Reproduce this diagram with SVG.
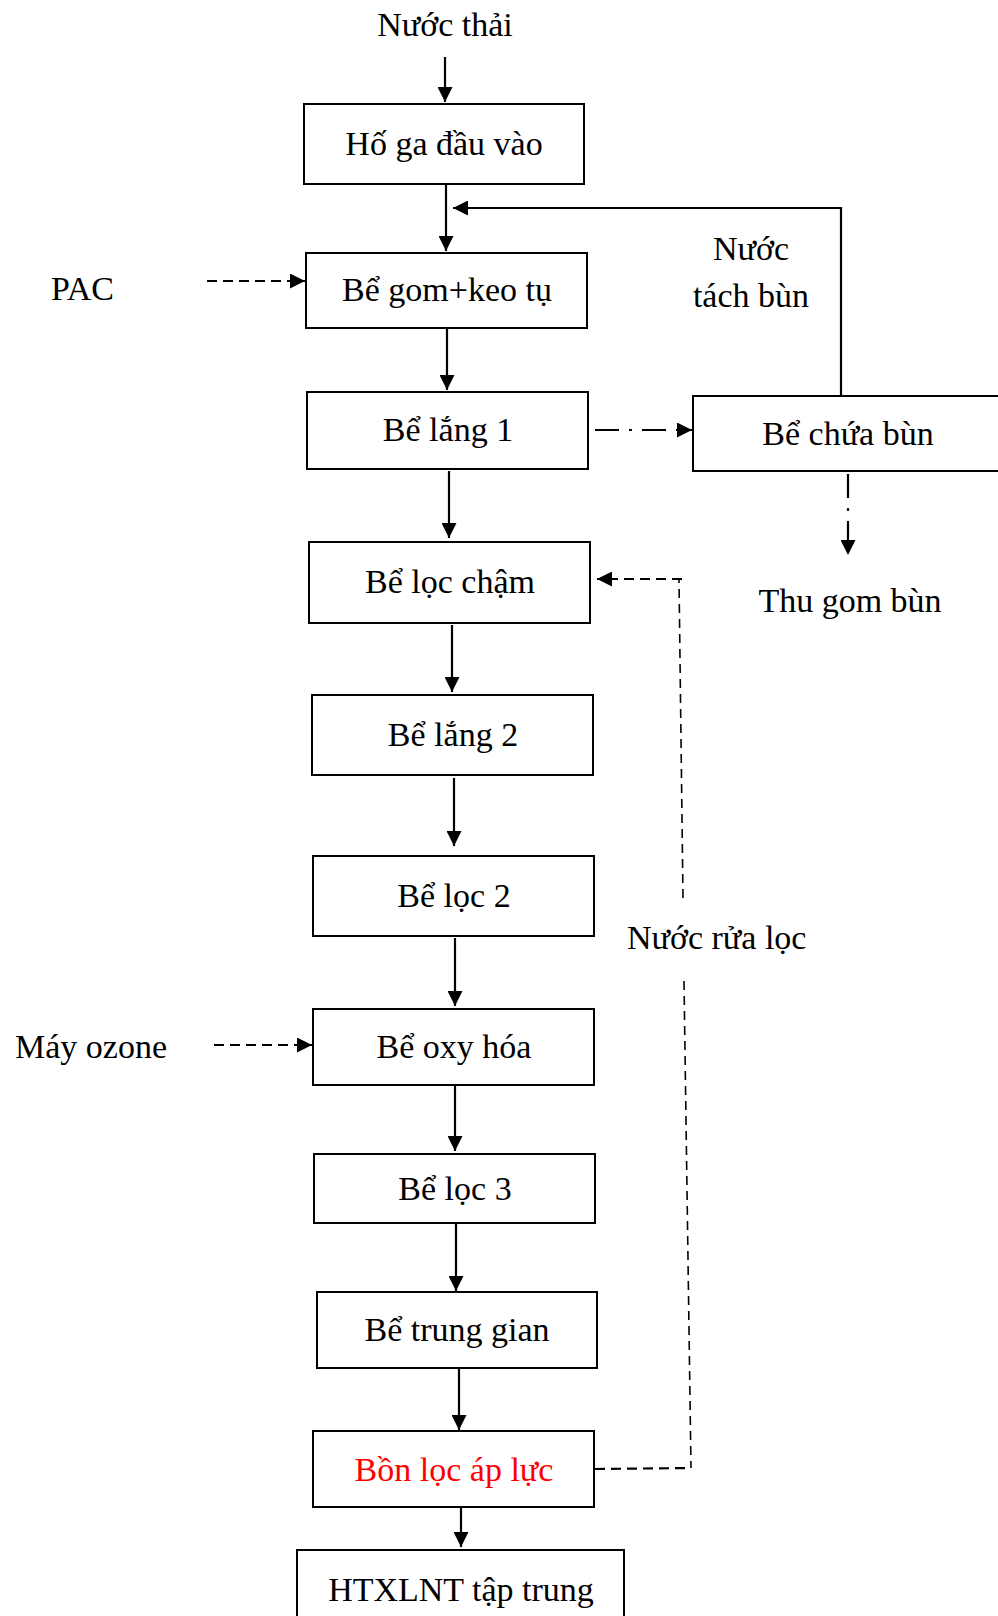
<svg xmlns="http://www.w3.org/2000/svg" width="998" height="1616" viewBox="0 0 998 1616">
<style>
.box{fill:#fff;stroke:#000;stroke-width:2}
.t{font-family:"Liberation Serif","Times New Roman",serif;font-size:34px;fill:#000}
.c{text-anchor:middle}
.red{fill:#ff0000}
.ln{fill:none;stroke:#000;stroke-width:2.2}
.dash{fill:none;stroke:#000;stroke-width:2.2;stroke-dasharray:10 6}
.dashthin{fill:none;stroke:#000;stroke-width:1.6;stroke-dasharray:9 6}
.dashdot{fill:none;stroke:#000;stroke-width:2.2;stroke-dasharray:24 10 3 10}
</style>
<defs>
<marker id="ah" markerUnits="userSpaceOnUse" markerWidth="16" markerHeight="15" refX="15" refY="7.5" orient="auto">
<path d="M0,0 L15,7.5 L0,15 z" fill="#000"/>
</marker>
</defs>
<g id="connectors">
<line class="ln" x1="445" y1="57" x2="445" y2="102" marker-end="url(#ah)"/>
<line class="ln" x1="446" y1="185" x2="446" y2="251" marker-end="url(#ah)"/>
<line class="ln" x1="447" y1="326" x2="447" y2="390" marker-end="url(#ah)"/>
<line class="ln" x1="449" y1="471" x2="449" y2="538" marker-end="url(#ah)"/>
<line class="ln" x1="452" y1="625" x2="452" y2="692" marker-end="url(#ah)"/>
<line class="ln" x1="454" y1="778" x2="454" y2="846" marker-end="url(#ah)"/>
<line class="ln" x1="455" y1="938" x2="455" y2="1006" marker-end="url(#ah)"/>
<line class="ln" x1="455" y1="1085" x2="455" y2="1151" marker-end="url(#ah)"/>
<line class="ln" x1="456" y1="1224" x2="456" y2="1291" marker-end="url(#ah)"/>
<line class="ln" x1="459" y1="1368" x2="459" y2="1430" marker-end="url(#ah)"/>
<line class="ln" x1="461" y1="1507" x2="461" y2="1547" marker-end="url(#ah)"/>
<polyline class="ln" points="841,395 841,208 453,208" marker-end="url(#ah)"/>
<line class="dash" x1="207" y1="281" x2="305" y2="281" marker-end="url(#ah)"/>
<line class="dash" x1="214" y1="1045" x2="312" y2="1045" marker-end="url(#ah)"/>
<line class="dashdot" x1="595" y1="430" x2="692" y2="430" marker-end="url(#ah)"/>
<line class="dashdot" x1="848" y1="474" x2="848" y2="555" marker-end="url(#ah)"/>
<path class="dashthin" d="M683,898 L679,579"/>
<path class="dash" d="M682,579 L597,579" marker-end="url(#ah)"/>
<path class="dashthin" d="M684,981 L691,1468"/>
<path class="dash" d="M595,1469 L691,1468"/>
</g>
<g id="n-nuocthai"><text class="t c" x="445" y="36">Nước thải</text></g>
<g id="n-hoga"><rect class="box" x="304" y="104" width="280" height="80"/><text class="t c" x="444" y="155">Hố ga đầu vào</text></g>
<g id="n-begom"><rect class="box" x="306" y="253" width="281" height="75"/><text class="t c" x="447" y="301">Bể gom+keo tụ</text></g>
<g id="n-belang1"><rect class="box" x="307" y="392" width="281" height="77"/><text class="t c" x="448" y="441">Bể lắng 1</text></g>
<g id="n-beloccham"><rect class="box" x="309" y="542" width="281" height="81"/><text class="t c" x="450" y="593">Bể lọc chậm</text></g>
<g id="n-belang2"><rect class="box" x="312" y="695" width="281" height="80"/><text class="t c" x="453" y="746">Bể lắng 2</text></g>
<g id="n-beloc2"><rect class="box" x="313" y="856" width="281" height="80"/><text class="t c" x="454" y="907">Bể lọc 2</text></g>
<g id="n-beoxy"><rect class="box" x="313" y="1009" width="281" height="76"/><text class="t c" x="454" y="1058">Bể oxy hóa</text></g>
<g id="n-beloc3"><rect class="box" x="314" y="1154" width="281" height="69"/><text class="t c" x="455" y="1200">Bể lọc 3</text></g>
<g id="n-betrunggian"><rect class="box" x="317" y="1292" width="280" height="76"/><text class="t c" x="457" y="1341">Bể trung gian</text></g>
<g id="n-bonloc"><rect class="box" x="313" y="1431" width="281" height="76"/><text class="t c red" x="454" y="1481">Bồn lọc áp lực</text></g>
<g id="n-htxlnt"><rect class="box" x="297" y="1550" width="327" height="80"/><text class="t c" x="461" y="1601">HTXLNT tập trung</text></g>
<g id="n-bechuabun"><rect class="box" x="693" y="396" width="320" height="75"/><text class="t c" x="848" y="445">Bể chứa bùn</text></g>
<g id="n-thugom"><text class="t c" x="850" y="612">Thu gom bùn</text></g>
<g id="n-nuoctach"><text class="t c" x="751" y="260">Nước</text><text class="t c" x="751" y="307">tách bùn</text></g>
<g id="n-nuocrua"><text class="t" x="627" y="949">Nước rửa lọc</text></g>
<g id="n-pac"><text class="t" x="51" y="300">PAC</text></g>
<g id="n-ozone"><text class="t" x="15" y="1058">Máy ozone</text></g>
</svg>
